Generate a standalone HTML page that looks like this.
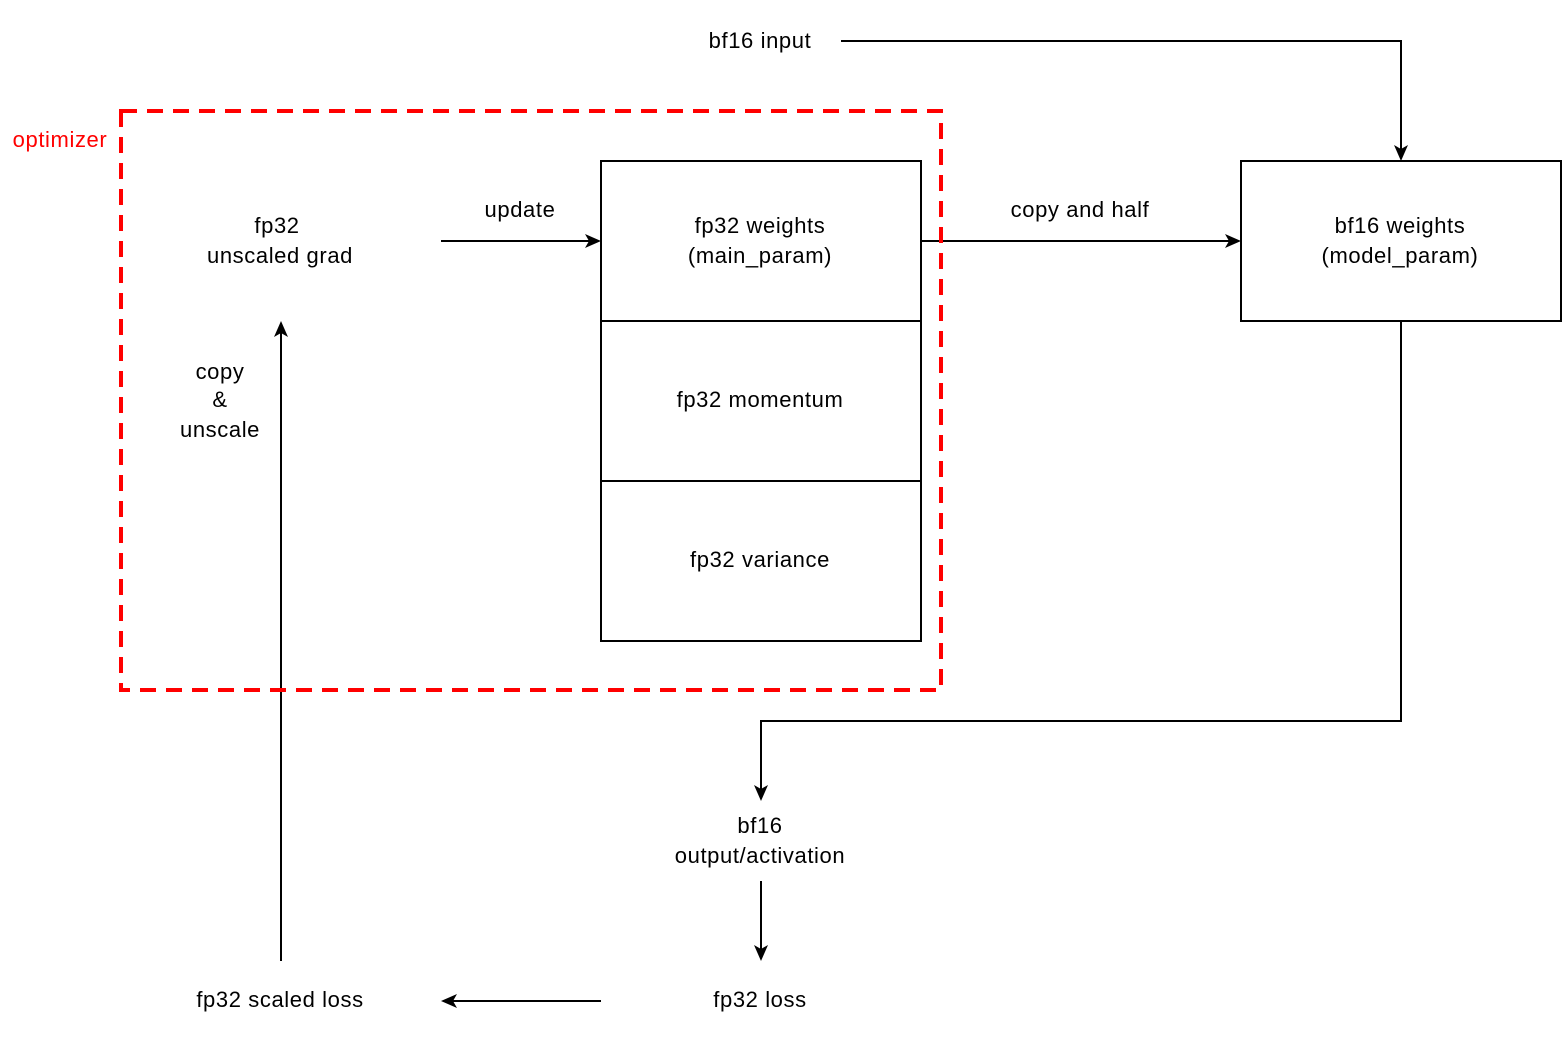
<!DOCTYPE html>
<html><head><meta charset="utf-8"><style>
html,body{margin:0;padding:0;background:#fff;}
svg{display:block;}
text{font-family:"Liberation Sans",Arial,sans-serif;font-size:22px;letter-spacing:0.6px;fill:#000;}
</style></head><body>
<svg width="1562" height="1040" viewBox="0 0 1562 1040" xmlns="http://www.w3.org/2000/svg">
<g fill="none" stroke="#000" stroke-width="2">
<rect x="601" y="161" width="320" height="160"/>
<rect x="601" y="321" width="320" height="160"/>
<rect x="601" y="481" width="320" height="160"/>
<rect x="1241" y="161" width="320" height="160"/>
<path d="M841,41 H1401 V152"/>
<path d="M441,241 H592"/>
<path d="M921,241 H1232"/>
<path d="M1401,321 V721 H761 V792"/>
<path d="M761,881 V952"/>
<path d="M601,1001 H450"/>
<path d="M281,961 V330"/>
</g>
<g fill="#000">
<path d="M1401,161 L1394,145 L1401,149 L1408,145 Z"/>
<path d="M601,241 L585,234 L589,241 L585,248 Z"/>
<path d="M1241,241 L1225,234 L1229,241 L1225,248 Z"/>
<path d="M761,801 L754,785 L761,789 L768,785 Z"/>
<path d="M761,961 L754,945 L761,949 L768,945 Z"/>
<path d="M441,1001 L457,994 L453,1001 L457,1008 Z"/>
<path d="M281,321 L274,337 L281,333 L288,337 Z"/>
</g>
<rect x="121" y="111" width="820" height="579" fill="none" stroke="#ff0000" stroke-width="4" stroke-dasharray="16 10"/>
<g text-anchor="middle">
<text x="760" y="48">bf16 input</text>
<text x="60" y="147" style="fill:#ff0000">optimizer</text>
<text x="277" y="233">fp32</text>
<text x="280" y="263">unscaled grad</text>
<text x="520" y="217">update</text>
<text x="760" y="233">fp32 weights</text>
<text x="760" y="263">(main_param)</text>
<text x="760" y="407">fp32 momentum</text>
<text x="760" y="567">fp32 variance</text>
<text x="1080" y="217">copy and half</text>
<text x="1400" y="233">bf16 weights</text>
<text x="1400" y="263">(model_param)</text>
<text x="220" y="379">copy</text>
<text x="220" y="407">&amp;</text>
<text x="220" y="437">unscale</text>
<text x="760" y="833">bf16</text>
<text x="760" y="863">output/activation</text>
<text x="760" y="1007">fp32 loss</text>
<text x="280" y="1007">fp32 scaled loss</text>
</g>
</svg>
</body></html>
